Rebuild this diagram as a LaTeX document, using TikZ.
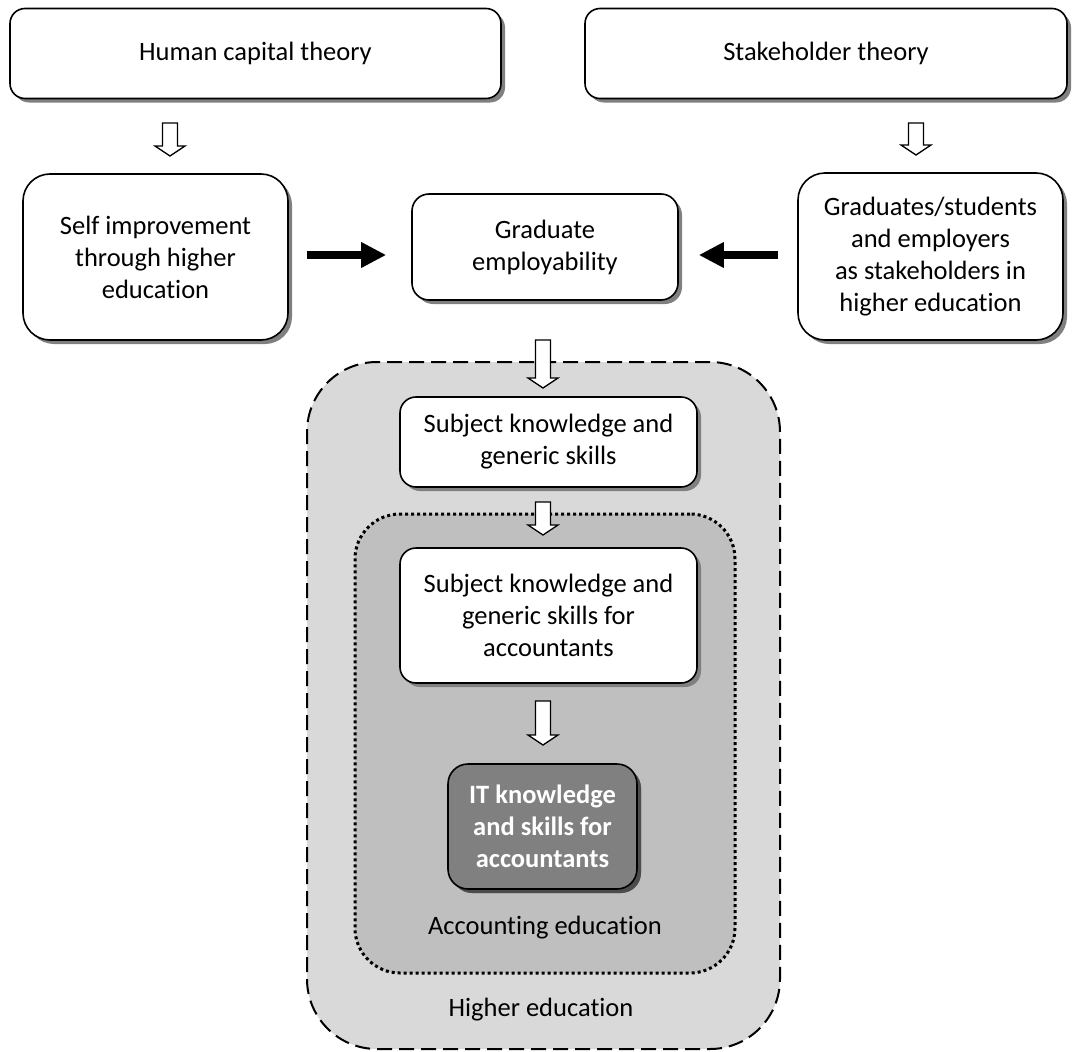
\documentclass[tikz,border=0pt]{standalone}
\usepackage{fontspec}
\setmainfont[Ligatures={NoCommon},RawFeature={-liga;-clig;-dlig}]{Carlito}
\usetikzlibrary{shadows,arrows.meta,calc}
\newcommand\hollowarrow[2]{%
  \draw[harrow] let \p1=(#1), \p2=(#2) in
    (\x1-7.5pt,\y1) -- (\x1+7.5pt,\y1) -- (\x1+7.5pt,\y2+10pt) -- (\x1+15pt,\y2+10pt)
    -- (\x1,\y2) -- (\x1-15pt,\y2+10pt) -- (\x1-7.5pt,\y2+10pt) -- cycle;}
\begin{document}
\begin{tikzpicture}[x=1pt,y=-1pt,
  txt/.style={font=\fontsize{26.5}{32}\selectfont, align=center},
  box/.style={txt, draw=black, line width=1.6pt, fill=white, rounded corners=#1,
    inner sep=0pt,
    drop shadow={shadow xshift=4pt, shadow yshift=-4pt, fill=black!50, opacity=1}},
  box/.default=16pt,
  itbox/.style={box=20pt, fill=black!50, text=white,
    font=\fontsize{26.5}{32}\selectfont\bfseries,
    drop shadow={shadow xshift=4pt, shadow yshift=-4pt, fill=black!70, opacity=1}},
  hebox/.style={draw=black, line width=2pt, fill=black!15, rounded corners=70pt,
    dash pattern=on 15pt off 7pt, inner sep=0pt},
  aebox/.style={draw=black, line width=3pt, fill=black!25, rounded corners=45pt,
    dash pattern=on 3pt off 3pt, inner sep=0pt},
  harrow/.style={draw=black, line width=1.3pt, fill=white, line join=miter},
  barrow/.style={draw=black, line width=7.5pt, -{Triangle[length=25pt,width=24pt]}},
]
\useasboundingbox (0,0) rectangle (1072,1052);

% top row
\node[box=15pt, minimum width=491pt, minimum height=90pt] (hct) at (255.5,53.5) {Human capital theory};
\node[box=15pt, minimum width=482pt, minimum height=90pt] (sht) at (826,53.5) {Stakeholder theory};

% middle row
\node[box=27pt, minimum width=265pt, minimum height=166pt] (self) at (155.5,257)
  {Self improvement\\through higher\\education};
\node[box=17pt, minimum width=266pt, minimum height=106pt] (ge) at (545,247)
  {Graduate\\employability};
\node[box=27pt, minimum width=265pt, minimum height=167pt] (gs) at (930.5,256.5)
  {Graduates/students\\and employers\\as stakeholders in\\higher education};

% containers
\node[hebox, minimum width=473pt, minimum height=687pt] (he) at (543.5,705.5) {};
\node[box=16pt, minimum width=297pt, minimum height=90pt] (sk1) at (548.5,442)
  {Subject knowledge and\\generic skills};
\node[aebox, minimum width=380pt, minimum height=459pt] (ae) at (545,743.5) {};
\node[box=16pt, minimum width=297pt, minimum height=135pt] (sk2) at (548.5,615.5)
  {Subject knowledge and\\generic skills for\\accountants};
\node[itbox, minimum width=189pt, minimum height=125pt] (it) at (542.5,826.5)
  {IT knowledge\\and skills for\\accountants};

\node[txt] (aelabel) at (545,928) {Accounting education};
\node[txt] (helabel) at (541,1010) {Higher education};

% hollow arrows
\coordinate (a1s) at (170,123); \coordinate (a1e) at (170,156);
\coordinate (a2s) at (916,123); \coordinate (a2e) at (916,155);
\coordinate (a3s) at (543,340); \coordinate (a3e) at (543,388);
\coordinate (a4s) at (543,502); \coordinate (a4e) at (543,535);
\coordinate (a5s) at (543,701); \coordinate (a5e) at (543,745);
\hollowarrow{a1s}{a1e}
\hollowarrow{a2s}{a2e}
\hollowarrow{a3s}{a3e}
\hollowarrow{a4s}{a4e}
\hollowarrow{a5s}{a5e}

% black arrows
\coordinate (b1s) at (307,255);
\coordinate (b2s) at (778,255);
\draw[barrow, shorten >=25pt] (b1s) -- (b1s -| ge.west);
\draw[barrow, shorten >=20pt] (b2s) -- (b2s -| ge.east);
\end{tikzpicture}
\end{document}
